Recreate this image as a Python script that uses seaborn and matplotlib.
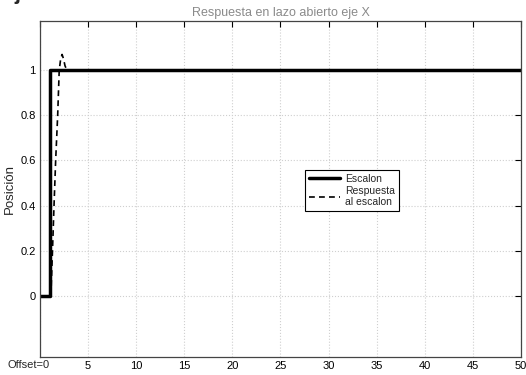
import matplotlib
matplotlib.use("Agg")
import matplotlib.pyplot as plt
import seaborn as sns

# datos
t_escalon = [0, 1, 1, 50]
y_escalon = [0, 0, 1, 1]

t_resp = [1.0, 1.15, 1.3, 1.46, 1.63, 1.84, 2.0, 2.15, 2.3, 2.45, 2.6, 2.8, 3.0, 50]
y_resp = [0.0, 0.02, 0.2, 0.4, 0.6, 0.8, 1.0, 1.05, 1.07, 1.05, 1.02, 1.0, 1.0, 1.0]

x_ticks = [0, 5, 10, 15, 20, 25, 30, 35, 40, 45, 50]
x_ticklabels = ["", "5", "10", "15", "20", "25", "30", "35", "40", "45", "50"]
y_ticks = [0, 0.2, 0.4, 0.6, 0.8, 1]
y_ticklabels = ["0", "0.2", "0.4", "0.6", "0.8", "1"]

sns.set_style("white")
plt.rcParams["font.family"] = ["Liberation Sans", "DejaVu Sans"]

fig = plt.figure(figsize=(5.26, 3.75), dpi=100)
ax = fig.add_axes([0.076, 0.049, 0.9145, 0.896])

sns.lineplot(x=t_escalon, y=y_escalon, ax=ax, color="black", linewidth=2.5,
             estimator=None, sort=False, label="Escalon")
sns.lineplot(x=t_resp, y=y_resp, ax=ax, color="black", linewidth=1.2,
             estimator=None, sort=False, label="Respuesta\nal escalon")
ax.lines[1].set_dashes([3.5, 2.5])

ax.set_xlim(0, 50)
ax.set_ylim(-0.27, 1.22)
ax.set_xticks(x_ticks)
ax.set_xticklabels(x_ticklabels)
ax.set_yticks(y_ticks)
ax.set_yticklabels(y_ticklabels)
ax.tick_params(direction="in", top=True, right=True, length=4, width=0.8,
               labelsize=8, pad=3, colors="black")

ax.grid(True, color="#cfcfcf", linestyle=":", linewidth=0.8)
for s in ax.spines.values():
    s.set_color("#444444")
    s.set_linewidth(0.9)

ax.set_title("Respuesta en lazo abierto eje X", color="#8a8a8a", fontsize=9, pad=3)
ax.set_ylabel("Posición", fontsize=9.5, labelpad=3)
ax.set_xlabel("")

fig.text(0.055, 0.012, "Offset=0", fontsize=8, ha="center", va="bottom")
# texto recortado del documento original (solo se ve la parte de abajo)
fig.text(0.0, 1.045, "Eje X:", fontsize=16, fontweight="bold", ha="left", va="top")

leg = ax.legend(loc="upper left", bbox_to_anchor=(0.54, 0.57), fontsize=7.5,
                frameon=True, fancybox=False, edgecolor="black", framealpha=1,
                handlelength=3, borderpad=0.35, labelspacing=0.15, handletextpad=0.5)
leg.get_frame().set_linewidth(0.8)

fig.savefig("out.png", dpi=100)
